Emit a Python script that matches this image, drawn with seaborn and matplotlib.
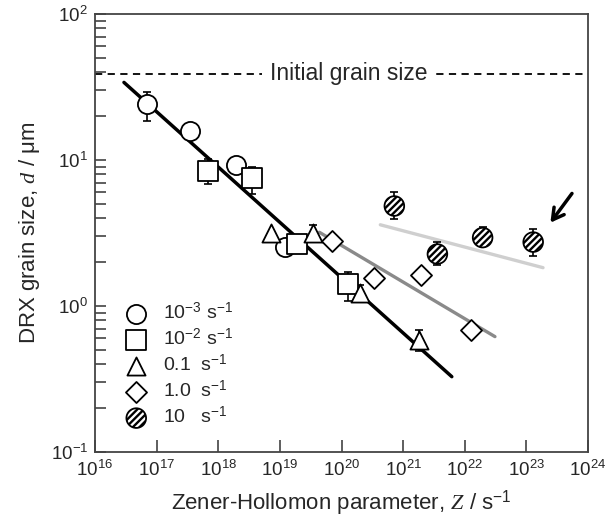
import numpy as np
import matplotlib
matplotlib.use('Agg')
import matplotlib.pyplot as plt
from matplotlib.ticker import LogLocator, NullLocator
import seaborn as sns

# Zener-Hollomon parameter Z (s^-1) and DRX grain size d (um) for each strain rate
z_c = [6.9e16, 3.5e17, 1.95e18, 1.2e19]        # 10^-3 s^-1
d_c = [24.1, 15.8, 9.2, 2.55]
lo_c = [18.5, 15.8, 9.2, 2.55]
hi_c = [29.4, 15.8, 9.2, 2.55]

z_s = [6.8e17, 3.5e18, 1.9e19, 1.26e20]        # 10^-2 s^-1
d_s = [8.45, 7.5, 2.66, 1.42]
lo_s = [6.85, 5.85, 2.66, 1.09]
hi_s = [10.1, 8.9, 2.66, 1.72]

z_t = [7.2e18, 3.5e19, 2.0e20, 1.8e21]         # 0.1 s^-1
d_t = [3.16, 3.15, 1.22, 0.587]
lo_t = [3.16, 3.15, 1.22, 0.49]
hi_t = [3.16, 3.6, 1.4, 0.69]

z_d = [6.9e19, 3.4e20, 1.95e21, 1.26e22]       # 1.0 s^-1
d_d = [2.79, 1.55, 1.63, 0.685]

z_h = [7.2e20, 3.6e21, 1.95e22, 1.29e23]       # 10 s^-1
d_h = [4.84, 2.27, 2.94, 2.74]
lo_h = [3.93, 1.91, 2.75, 2.20]
hi_h = [6.0, 2.74, 3.46, 3.37]

# fitted lines (end points)
fit_black_z = [10**16.47, 10**21.79]
fit_black_d = [34.0, 0.328]
fit_grey_z = [10**19.64, 10**22.49]
fit_grey_d = [3.2, 0.617]
fit_light_z = [10**20.63, 10**23.27]
fit_light_d = [3.6, 1.83]

initial_size = 39.0

legend_labels = ['10$^{-3}$ s$^{-1}$', '10$^{-2}$ s$^{-1}$', '0.1  s$^{-1}$',
                 '1.0  s$^{-1}$', '10   s$^{-1}$']

sns.set_style('ticks')
plt.rcParams['font.family'] = ['Liberation Sans', 'DejaVu Sans']
plt.rcParams['mathtext.fontset'] = 'custom'
plt.rcParams['mathtext.rm'] = 'Liberation Sans'
plt.rcParams['mathtext.it'] = 'Liberation Serif:italic'
plt.rcParams['mathtext.bf'] = 'Liberation Sans:bold'
plt.rcParams['hatch.linewidth'] = 1.7

fig = plt.figure(figsize=(6.12, 5.2), dpi=100)
ax = fig.add_axes([95 / 612, 68 / 520, 493 / 612, 438 / 520])

# fit lines
sns.lineplot(x=fit_black_z, y=fit_black_d, color='black', lw=2.5, ax=ax, zorder=1)
sns.lineplot(x=fit_grey_z, y=fit_grey_d, color='#8a8a8a', lw=2.4, ax=ax, zorder=1)
sns.lineplot(x=fit_light_z, y=fit_light_d, color='#cfcfcf', lw=2.4, ax=ax, zorder=1)

# initial grain size
ax.axhline(initial_size, color='black', lw=1.3, ls=(0, (4, 3)), zorder=1)
ax.text(10**20.12, initial_size, 'Initial grain size', fontsize=16.5,
        ha='center', va='center', zorder=2,
        bbox=dict(facecolor='white', edgecolor='none', pad=6))

# error bars
for z, d, lo, hi in [(z_c, d_c, lo_c, hi_c), (z_s, d_s, lo_s, hi_s),
                     (z_t, d_t, lo_t, hi_t), (z_h, d_h, lo_h, hi_h)]:
    d = np.array(d)
    ax.errorbar(z, d, yerr=[d - np.array(lo), np.array(hi) - d], fmt='none',
                ecolor='black', elinewidth=1.2, capsize=3, capthick=1.2, zorder=2)

# markers
common = dict(color='white', edgecolor='black', linewidth=1.3, ax=ax, zorder=3)
sns.scatterplot(x=z_c, y=d_c, marker='o', s=190, label=legend_labels[0], **common)
sns.scatterplot(x=z_s, y=d_s, marker='s', s=190, label=legend_labels[1], **common)
sns.scatterplot(x=z_t, y=d_t, marker='^', s=170, label=legend_labels[2], **common)
sns.scatterplot(x=z_d, y=d_d, marker='D', s=115, label=legend_labels[3], **common)
h = sns.scatterplot(x=z_h, y=d_h, marker='o', s=200, label=legend_labels[4], **common)
h.collections[-1].set_hatch('/////')

# arrow pointing at the 10 s^-1 data
ax.annotate('', xy=(10**23.39, 3.72), xytext=(10**23.74, 5.9),
            arrowprops=dict(arrowstyle='->,head_length=0.8,head_width=0.45',
                            lw=2.5, color='black', shrinkA=0, shrinkB=0))

ax.set_xscale('log')
ax.set_yscale('log')
ax.set_xlim(1e16, 1e24)
ax.set_ylim(0.1, 100)
ax.xaxis.set_major_locator(LogLocator(base=10, numticks=20))
ax.xaxis.set_minor_locator(NullLocator())
ax.yaxis.set_major_locator(LogLocator(base=10, numticks=10))
ax.yaxis.set_minor_locator(LogLocator(base=10, subs=np.arange(2, 10), numticks=10))

ax.tick_params(axis='both', which='both', direction='in', top=False, right=False,
               labelsize=13.5, color='#333333', width=1.1)
ax.tick_params(axis='x', which='major', length=8.5, pad=6)
ax.tick_params(axis='y', which='major', length=8, pad=5)
ax.tick_params(axis='y', which='minor', length=8)
for sp in ax.spines.values():
    sp.set_linewidth(1.3)
    sp.set_color('#444444')

ax.set_xlabel('Zener-Hollomon parameter, $Z$ / s$^{-1}$', fontsize=16, labelpad=6)
ax.set_ylabel('DRX grain size, $d$ / μm', fontsize=16, labelpad=6)

ax.legend(loc='upper left', bbox_to_anchor=(0.06, 0.343), frameon=False, fontsize=14,
          handletextpad=0.8, labelspacing=0.25, borderpad=0, borderaxespad=0,
          handlelength=1.2, scatterpoints=1)

fig.savefig('out.png', dpi=100)
